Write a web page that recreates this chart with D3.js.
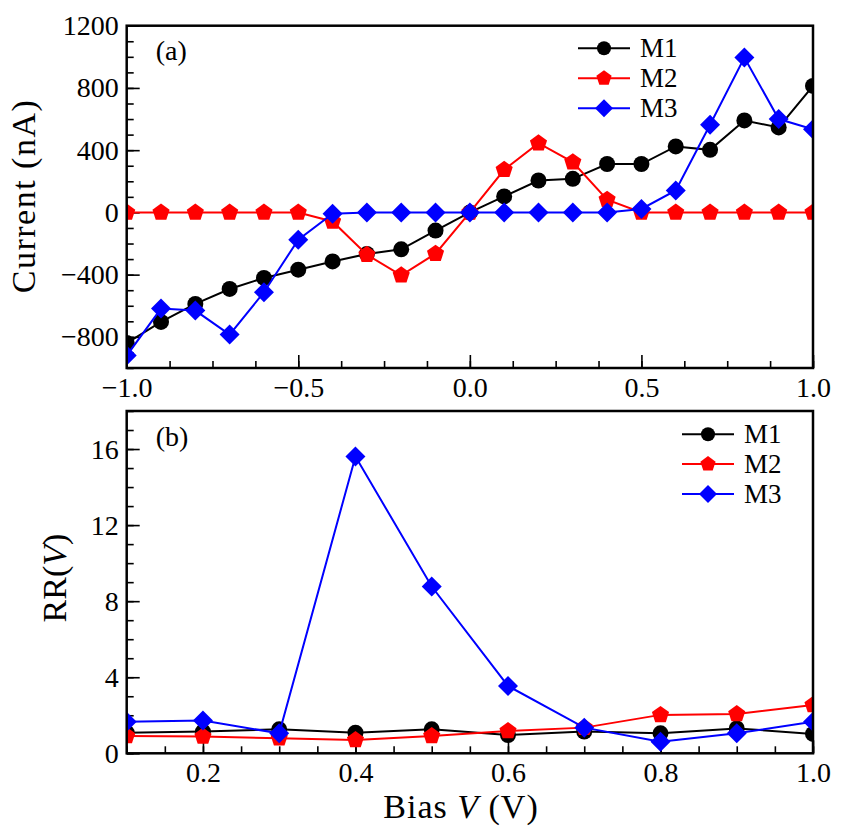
<meta charset="utf-8">
<style>
body { margin: 0; background: #fff; }
.line { fill: none; stroke-width: 2px; }
</style>
<body>
<script src="https://d3js.org/d3.v7.min.js"></script>
<script>
// ---- data ----
var biasA = [-1.0,-0.9,-0.8,-0.7,-0.6,-0.5,-0.4,-0.3,-0.2,-0.1,0.0,0.1,0.2,0.3,0.4,0.5,0.6,0.7,0.8,0.9,1.0];
var m1A = [-840,-704,-588,-492,-421,-368,-315,-267,-237,-117,0,103,205,216,311,311,424,402,591,546,813];
var m2A = [0,0,0,0,0,0,-58,-272,-404,-265,0,274,445,323,82,0,0,0,0,0,0];
var m3A = [-920,-618,-631,-785,-513,-175,-8,0,0,0,0,0,0,0,0,22,141,563,995,600,535];

var biasB = [0.1,0.2,0.3,0.4,0.5,0.6,0.7,0.8,0.9,1.0];
var m1B = [1.08,1.14,1.26,1.08,1.26,0.96,1.14,1.05,1.31,1.02];
var m2B = [0.91,0.88,0.79,0.70,0.91,1.17,1.35,2.02,2.07,2.54];
var m3B = [1.66,1.72,1.05,15.61,8.77,3.54,1.35,0.61,1.05,1.66];

var seriesNames = ["M1","M2","M3"];
var seriesColors = ["#000000","#ff0000","#0000ff"];
var seriesShapes = ["circle","pentagon","diamond"];

var xTicksA = [-1.0,-0.5,0.0,0.5,1.0];
var xMinorA = d3.range(-1.0, 1.0001, 0.125);
var yTicksA = [-800,-400,0,400,800,1200];
var yMinorA = d3.range(-1000, 1201, 100);

var xTicksB = [0.2,0.4,0.6,0.8,1.0];
var xMinorB = d3.range(0.1, 1.0001, 0.05);
var yTicksB = [0,4,8,12,16];
var yMinorB = d3.range(0, 18.01, 1);

var FONT = "'Liberation Serif', 'Times New Roman', serif";

var svg = d3.select("body").append("svg")
    .attr("width", 846)
    .attr("height", 834)
    .style("font-family", FONT);

// marker path generator
function markerPath(shape, r) {
  if (shape == "circle") {
    return "M" + (-r) + ",0A" + r + "," + r + " 0 1,0 " + r + ",0A" + r + "," + r + " 0 1,0 " + (-r) + ",0Z";
  }
  if (shape == "diamond") {
    return "M0," + (-r) + "L" + r + ",0L0," + r + "L" + (-r) + ",0Z";
  }
  var pts = d3.range(5).map(function(k) {
    var a = (-90 + 72 * k) * Math.PI / 180;
    return [r * Math.cos(a), r * Math.sin(a)];
  });
  return "M" + pts.map(function(p) { return p[0].toFixed(2) + "," + p[1].toFixed(2); }).join("L") + "Z";
}
var markerSize = {circle: 8, pentagon: 9, diamond: 10};

function fmtMinus(s) { return s.replace("-", "\u2212"); }

// draws one panel
function panel(opt) {
  var x = d3.scaleLinear().domain(opt.xDomain).range([opt.left, opt.right]);
  var y = d3.scaleLinear().domain(opt.yDomain).range([opt.bottom, opt.top]);
  var g = svg.append("g");

  g.append("clipPath").attr("id", opt.id)
    .append("rect")
      .attr("x", opt.left).attr("y", opt.top)
      .attr("width", opt.right - opt.left).attr("height", opt.bottom - opt.top);

  // minor ticks
  g.append("g")
      .attr("transform", "translate(0," + opt.bottom + ")")
      .call(d3.axisBottom(x).tickValues(opt.xMinor).tickSize(-7).tickFormat(""))
      .call(function(a) { a.select(".domain").remove(); });
  g.append("g")
      .attr("transform", "translate(" + opt.left + ",0)")
      .call(d3.axisLeft(y).tickValues(opt.yMinor).tickSize(-7).tickFormat(""))
      .call(function(a) { a.select(".domain").remove(); });

  // major ticks with labels
  g.append("g")
      .attr("transform", "translate(0," + opt.bottom + ")")
      .call(d3.axisBottom(x).tickValues(opt.xTicks).tickSize(-13).tickPadding(9).tickFormat(function(d) { return fmtMinus(d3.format(".1f")(d)); }))
      .call(function(a) { a.select(".domain").remove(); });
  g.append("g")
      .attr("transform", "translate(" + opt.left + ",0)")
      .call(d3.axisLeft(y).tickValues(opt.yTicks).tickSize(-13).tickPadding(8).tickFormat(function(d) { return fmtMinus(String(d)); }))
      .call(function(a) { a.select(".domain").remove(); });

  g.selectAll(".tick line").attr("stroke", "#000").attr("stroke-width", 1.6);
  g.selectAll(".tick text")
      .attr("fill", "#000")
      .style("font-family", FONT)
      .style("font-size", "28px");

  // series
  var plot = g.append("g").attr("clip-path", "url(#" + opt.id + ")");
  opt.series.forEach(function(vals, i) {
    var pts = opt.xs.map(function(v, j) { return [v, vals[j]]; });
    plot.append("path")
        .datum(pts)
        .attr("class", "line")
        .attr("stroke", seriesColors[i])
        .attr("d", d3.line().x(function(d) { return x(d[0]); }).y(function(d) { return y(d[1]); }));
    plot.selectAll(".mk" + i)
        .data(pts)
        .enter().append("path")
        .attr("transform", function(d) { return "translate(" + x(d[0]) + "," + y(d[1]) + ")"; })
        .attr("d", markerPath(seriesShapes[i], markerSize[seriesShapes[i]]))
        .attr("fill", seriesColors[i]);
  });

  // frame
  g.append("rect")
      .attr("x", opt.left).attr("y", opt.top)
      .attr("width", opt.right - opt.left).attr("height", opt.bottom - opt.top)
      .attr("fill", "none").attr("stroke", "#000").attr("stroke-width", 2.5);

  // panel label
  g.append("text")
      .style("font-family", FONT).style("font-size", "28px")
      .attr("x", opt.left + 29).attr("y", opt.labelY)
      .text(opt.label);

  // legend
  seriesNames.forEach(function(name, i) {
    var ly = opt.legendY + i * opt.legendStep;
    g.append("line")
        .attr("x1", opt.legendX).attr("x2", opt.legendX + 52)
        .attr("y1", ly).attr("y2", ly)
        .attr("stroke", seriesColors[i]).attr("stroke-width", 2);
    g.append("path")
        .attr("transform", "translate(" + (opt.legendX + 26) + "," + ly + ")")
        .attr("d", markerPath(seriesShapes[i], markerSize[seriesShapes[i]] - 1))
        .attr("fill", seriesColors[i]);
    g.append("text")
        .style("font-family", FONT).style("font-size", "27px")
        .attr("x", opt.legendX + 62).attr("y", ly + 9)
        .text(name);
  });
  return g;
}

panel({
  id: "clipA", left: 126.7, right: 813, top: 25.7, bottom: 368,
  xDomain: [-1, 1], yDomain: [-1000, 1200],
  xTicks: xTicksA, xMinor: xMinorA, yTicks: yTicksA, yMinor: yMinorA,
  xs: biasA, series: [m1A, m2A, m3A],
  label: "(a)", labelY: 60,
  legendX: 578, legendY: 48.3, legendStep: 30
});

panel({
  id: "clipB", left: 126.7, right: 813, top: 411, bottom: 753.3,
  xDomain: [0.1, 1.0], yDomain: [0, 18],
  xTicks: xTicksB, xMinor: xMinorB, yTicks: yTicksB, yMinor: yMinorB,
  xs: biasB, series: [m1B, m2B, m3B],
  label: "(b)", labelY: 446,
  legendX: 682, legendY: 434.3, legendStep: 29.8
});

// axis titles
svg.append("text")
    .style("font-family", FONT).style("font-size", "34px")
    .attr("transform", "translate(35,196) rotate(-90)")
    .attr("text-anchor", "middle")
    .attr("letter-spacing", "1.5px")
    .text("Current (nA)");

var rr = svg.append("text")
    .style("font-family", FONT).style("font-size", "34px")
    .attr("transform", "translate(66,578) rotate(-90)")
    .attr("text-anchor", "middle");
rr.append("tspan").text("RR(");
rr.append("tspan").attr("font-style", "italic").text("V");
rr.append("tspan").text(")");

var bt = svg.append("text")
    .style("font-family", FONT).style("font-size", "34px")
    .attr("x", 461).attr("y", 818)
    .attr("text-anchor", "middle")
    .attr("letter-spacing", "1px");
bt.append("tspan").text("Bias ");
bt.append("tspan").attr("font-style", "italic").text("V");
bt.append("tspan").text(" (V)");
</script>
</body>
